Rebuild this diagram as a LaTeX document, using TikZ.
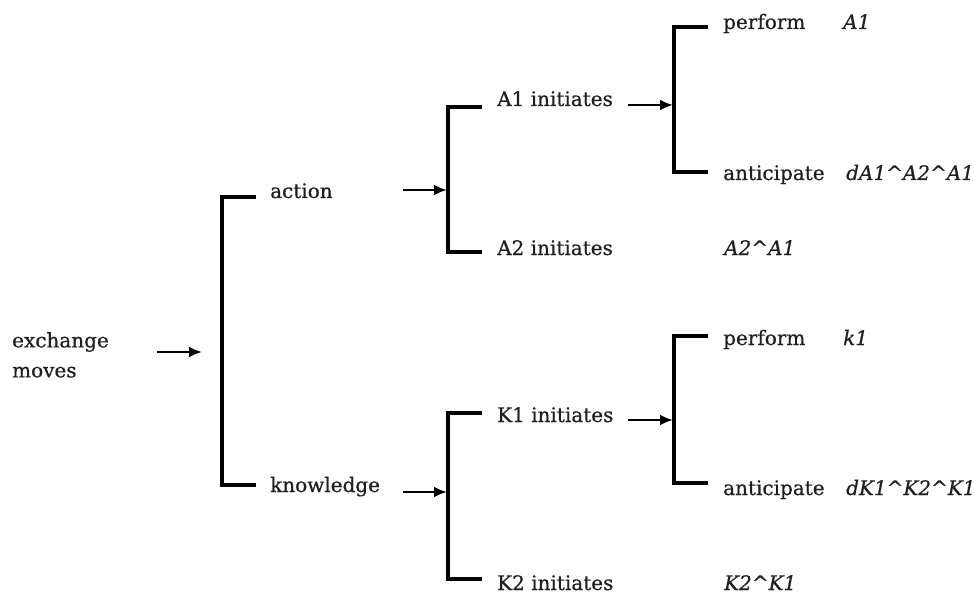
\documentclass[tikz,border=0pt]{standalone}
\usepackage{fontspec}
\setmainfont[FakeBold=0.6]{DejaVu Serif}
\usetikzlibrary{arrows.meta}
\begin{document}
\begin{tikzpicture}[x=1pt,y=-1pt,
  lbl/.style={inner sep=0pt,anchor=base west,text=black!88,font=\fontsize{20}{30}\selectfont},
  code/.style={lbl,font=\fontsize{20}{30}\selectfont\itshape},
  bracket/.style={line width=3.2pt,line cap=butt,line join=miter},
  feed/.style={line width=2.5pt,-{Latex[length=13pt,width=11pt]}}]
\useasboundingbox (0,0) rectangle (974,596);

% level 0
\node[lbl,anchor=north west,align=left] (root) at (12,332) {exchange\\moves};

% level 1
\node[lbl] (action) at (270,198) {action};
\node[lbl] (know) at (270,492) {knowledge};

% level 2
\node[lbl] (a1) at (497,106) {A1 initiates};
\node[lbl] (a2) at (497,255) {A2 initiates};
\node[lbl] (k1) at (497,422) {K1 initiates};
\node[lbl] (k2) at (497,590) {K2 initiates};

% level 3
\node[lbl] (ap) at (723,29) {perform};
\node[lbl] (aa) at (723,180) {anticipate};
\node[lbl] (kp) at (723,345) {perform};
\node[lbl] (ka) at (723,495) {anticipate};

% move codes
\node[code] (capa) at (843,29) {A1};
\node[code] (caan) at (846,180) {dA1\textasciicircum A2\textasciicircum A1};
\node[code] (ca2) at (724,255) {A2\textasciicircum A1};
\node[code] (ckp) at (843,345) {k1};
\node[code] (ckan) at (846,495) {dK1\textasciicircum K2\textasciicircum K1};
\node[code] (ck2) at (724,590) {K2\textasciicircum K1};

% bracket corners and tick ends
\coordinate (b0t) at (222,197);  \coordinate (b0b) at (222,485);
\coordinate (t0t) at (256,197);  \coordinate (t0b) at (256,485);
\coordinate (bAt) at (448,107);  \coordinate (bAb) at (448,252);
\coordinate (tAt) at (482,107);  \coordinate (tAb) at (482,252);
\coordinate (bKt) at (448,413);  \coordinate (bKb) at (448,579);
\coordinate (tKt) at (482,413);  \coordinate (tKb) at (482,579);
\coordinate (cAt) at (674,27);   \coordinate (cAb) at (674,172);
\coordinate (uAt) at (708,27);   \coordinate (uAb) at (708,172);
\coordinate (cKt) at (674,336);  \coordinate (cKb) at (674,483);
\coordinate (uKt) at (708,336);  \coordinate (uKb) at (708,483);

% brackets
\draw[bracket] (t0t) -- (b0t) -- (b0b) -- (t0b);
\draw[bracket] (tAt) -- (bAt) -- (bAb) -- (tAb);
\draw[bracket] (tKt) -- (bKt) -- (bKb) -- (tKb);
\draw[bracket] (uAt) -- (cAt) -- (cAb) -- (uAb);
\draw[bracket] (uKt) -- (cKt) -- (cKb) -- (uKb);

% arrows into the brackets
\coordinate (s0) at (157,352);  \coordinate (e0) at (202,352);
\coordinate (s1) at (403,190);  \coordinate (e1) at (447,190);
\coordinate (s2) at (403,492);  \coordinate (e2) at (447,492);
\coordinate (s3) at (628,105);  \coordinate (e3) at (673,105);
\coordinate (s4) at (628,420);  \coordinate (e4) at (673,420);
\draw[feed] (s0) -- (e0);
\draw[feed] (s1) -- (e1);
\draw[feed] (s2) -- (e2);
\draw[feed] (s3) -- (e3);
\draw[feed] (s4) -- (e4);
\end{tikzpicture}
\end{document}
